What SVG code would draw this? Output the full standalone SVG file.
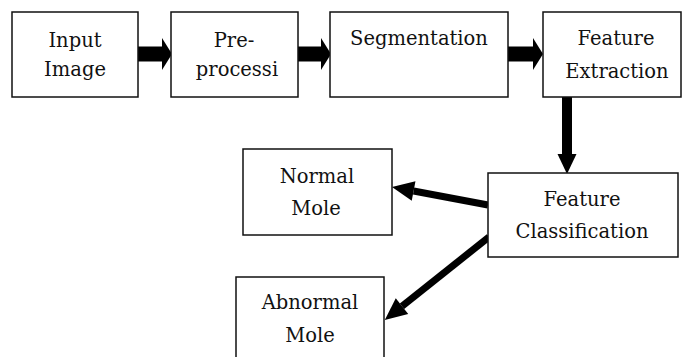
<svg xmlns="http://www.w3.org/2000/svg" width="683" height="357" viewBox="0 0 683 357">
<style>
.box{fill:#fff;stroke:#111;stroke-width:1.5}
text{font-family:"DejaVu Serif",serif;font-size:19.5px;fill:#111;text-anchor:middle}
.sh{stroke:#000;fill:none}
</style>
<defs>
<marker id="hh" markerUnits="userSpaceOnUse" markerWidth="12" markerHeight="34" refX="0" refY="16" orient="auto" overflow="visible">
<path d="M0,0 L10,16 L0,32 z" fill="#000"/>
</marker>
<marker id="hv" markerUnits="userSpaceOnUse" markerWidth="22" markerHeight="22" refX="0" refY="10" orient="auto" overflow="visible">
<path d="M0,0.5 L20,10 L0,19.5 z" fill="#000"/>
</marker>
<marker id="hd" markerUnits="userSpaceOnUse" markerWidth="24" markerHeight="22" refX="0" refY="10" orient="auto" overflow="visible">
<path d="M0,0 L22,10 L0,20 z" fill="#000"/>
</marker>
</defs>
<g id="connectors">
<line class="sh" x1="138" y1="54" x2="162" y2="54" stroke-width="15" marker-end="url(#hh)"/>
<line class="sh" x1="298" y1="54" x2="321" y2="54" stroke-width="15" marker-end="url(#hh)"/>
<line class="sh" x1="508" y1="54" x2="533" y2="54" stroke-width="15" marker-end="url(#hh)"/>
<line class="sh" x1="567" y1="97" x2="567" y2="154" stroke-width="10" marker-end="url(#hv)"/>
<line class="sh" x1="488" y1="205" x2="413.6" y2="191" stroke-width="7" marker-end="url(#hd)"/>
<line class="sh" x1="489" y1="237" x2="402" y2="306.2" stroke-width="7" marker-end="url(#hd)"/>
</g>
<g id="input-image">
<rect class="box" x="12" y="12" width="126" height="85"/>
<text x="75" y="47">Input</text>
<text x="75" y="76">Image</text>
</g>
<g id="preprocessing">
<rect class="box" x="171" y="12" width="127" height="85"/>
<text x="234" y="47">Pre-</text>
<text x="237" y="76">processi</text>
</g>
<g id="segmentation">
<rect class="box" x="330" y="12" width="178" height="85"/>
<text x="419" y="45">Segmentation</text>
</g>
<g id="feature-extraction">
<rect class="box" x="543" y="12" width="138" height="85"/>
<text x="616" y="45">Feature</text>
<text x="617" y="78">Extraction</text>
</g>
<g id="normal-mole">
<rect class="box" x="243" y="149" width="149" height="86"/>
<text x="317" y="183">Normal</text>
<text x="316" y="215">Mole</text>
</g>
<g id="feature-classification">
<rect class="box" x="488" y="173" width="190" height="84"/>
<text x="582" y="206">Feature</text>
<text x="582" y="238">Classification</text>
</g>
<g id="abnormal-mole">
<rect class="box" x="236" y="277" width="148" height="90"/>
<text x="310" y="309">Abnormal</text>
<text x="310" y="342">Mole</text>
</g>
</svg>
